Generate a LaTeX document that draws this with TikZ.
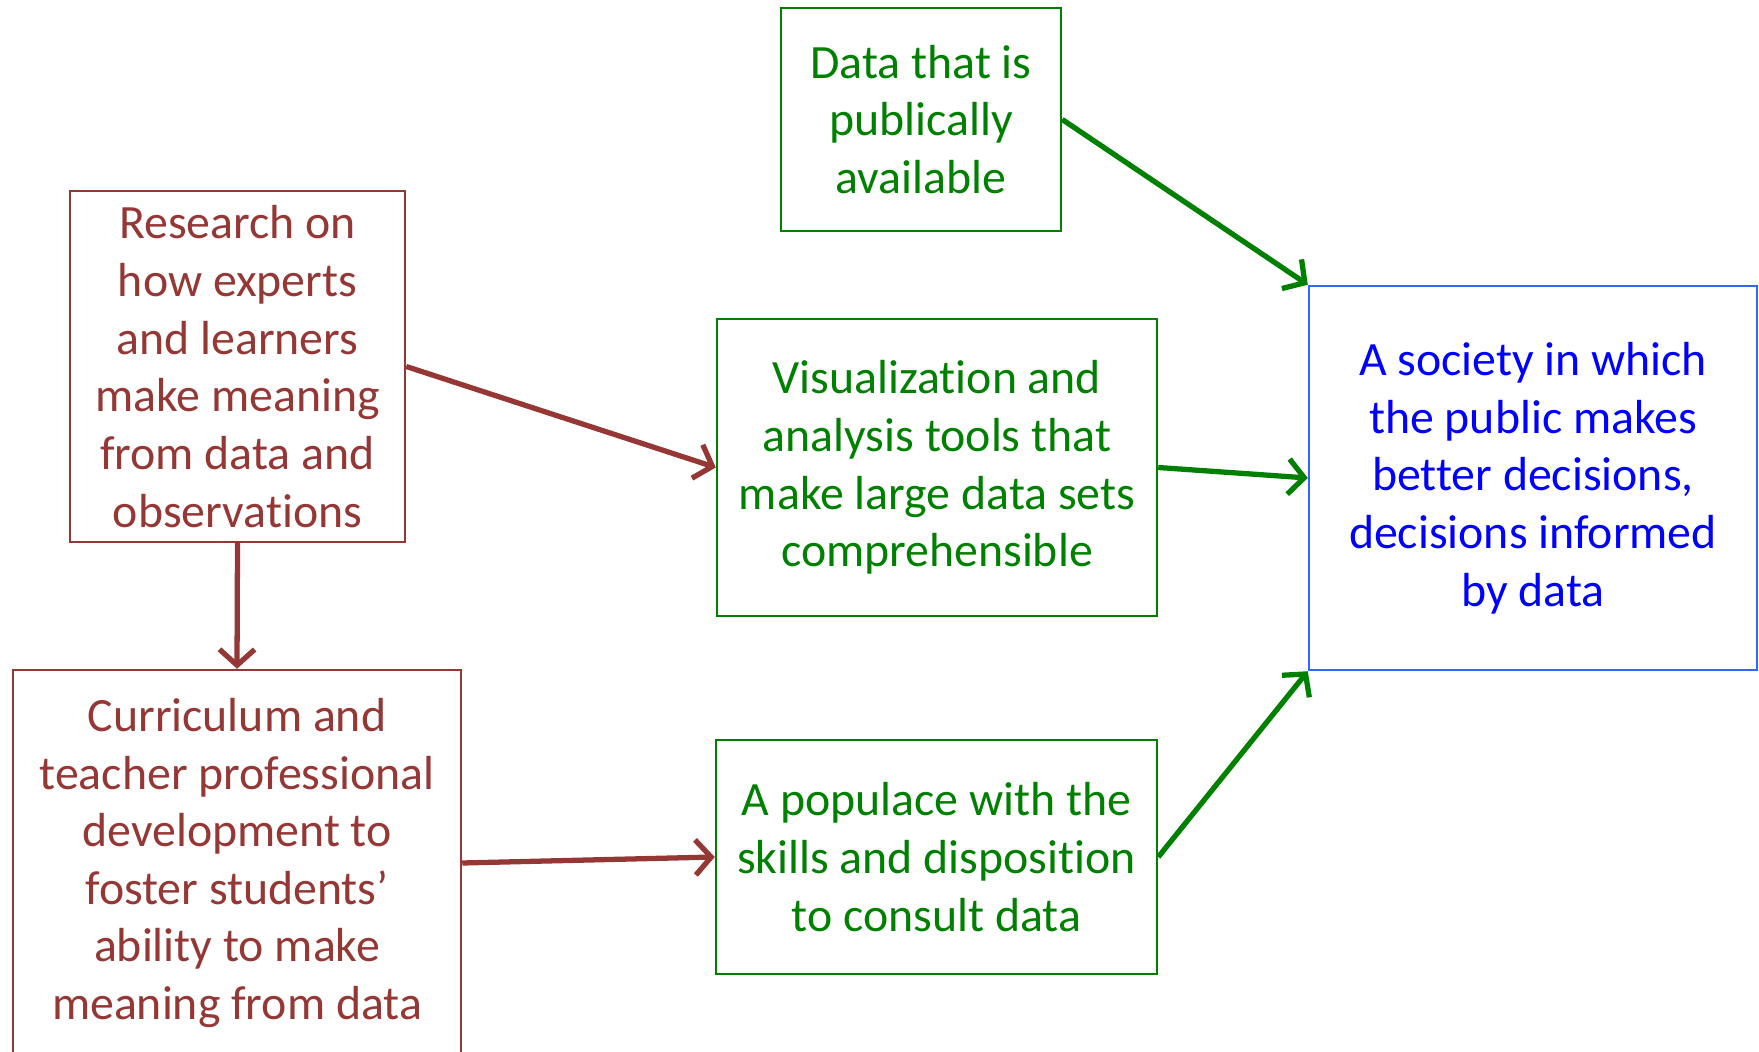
\documentclass[tikz,border=0pt]{standalone}
\usepackage{fontspec}
\setmainfont{Carlito}[Ligatures=NoCommon]
\usetikzlibrary{arrows.meta}

\definecolor{darkred}{RGB}{149,55,53}
\definecolor{leafgreen}{RGB}{0,128,0}
\definecolor{boxblue}{RGB}{51,102,255}

\begin{document}
\begin{tikzpicture}[
    every node/.style={align=center, inner sep=0pt, font=\fontsize{13.6}{16.4}\selectfont},
    redbox/.style={draw=darkred, line width=0.7pt, text=darkred},
    greenbox/.style={draw=leafgreen, line width=0.7pt, text=leafgreen},
    bluebox/.style={draw=boxblue, line width=0.7pt, text=blue},
    redarrow/.style={darkred, line width=1.5pt, -{Straight Barb[length=4.5pt, width=10pt]}},
    greenarrow/.style={leafgreen, line width=1.5pt, -{Straight Barb[length=4.5pt, width=10pt]}}
  ]
  \useasboundingbox (0,0) rectangle (17.59,-10.52);

  % Boxes
  \node[greenbox, minimum width=2.80cm, minimum height=2.23cm] (public) at (9.21,-1.195)
    {Data that is\\publically\\available};
  \node[redbox, minimum width=3.35cm, minimum height=3.51cm] (research) at (2.375,-3.665)
    {Research on\\how experts\\and learners\\make meaning\\from data and\\observations};
  \node[greenbox, minimum width=4.40cm, minimum height=2.97cm] (tools) at (9.37,-4.675)
    {Visualization and\\analysis tools that\\make large data sets\\comprehensible};
  \node[bluebox, minimum width=4.48cm, minimum height=3.84cm] (society) at (15.33,-4.78)
    {A society in which\\the public makes\\better decisions,\\decisions informed\\by data};
  \node[redbox, minimum width=4.48cm, minimum height=3.86cm] (curriculum) at (2.37,-8.63)
    {Curriculum and\\teacher professional\\development to\\foster students’\\ability to make\\meaning from data};
  \node[greenbox, minimum width=4.41cm, minimum height=2.34cm] (populace) at (9.365,-8.57)
    {A populace with the\\skills and disposition\\to consult data};

  % Arrows
  \draw[redarrow] (research.east) -- (tools.west);
  \draw[redarrow] (research.south) -- (curriculum.north);
  \draw[redarrow] (curriculum.east) -- (populace.west);
  \draw[greenarrow] (public.east) -- (society.north west);
  \draw[greenarrow] (tools.east) -- (society.west);
  \draw[greenarrow] (populace.east) -- (society.south west);
\end{tikzpicture}
\end{document}
